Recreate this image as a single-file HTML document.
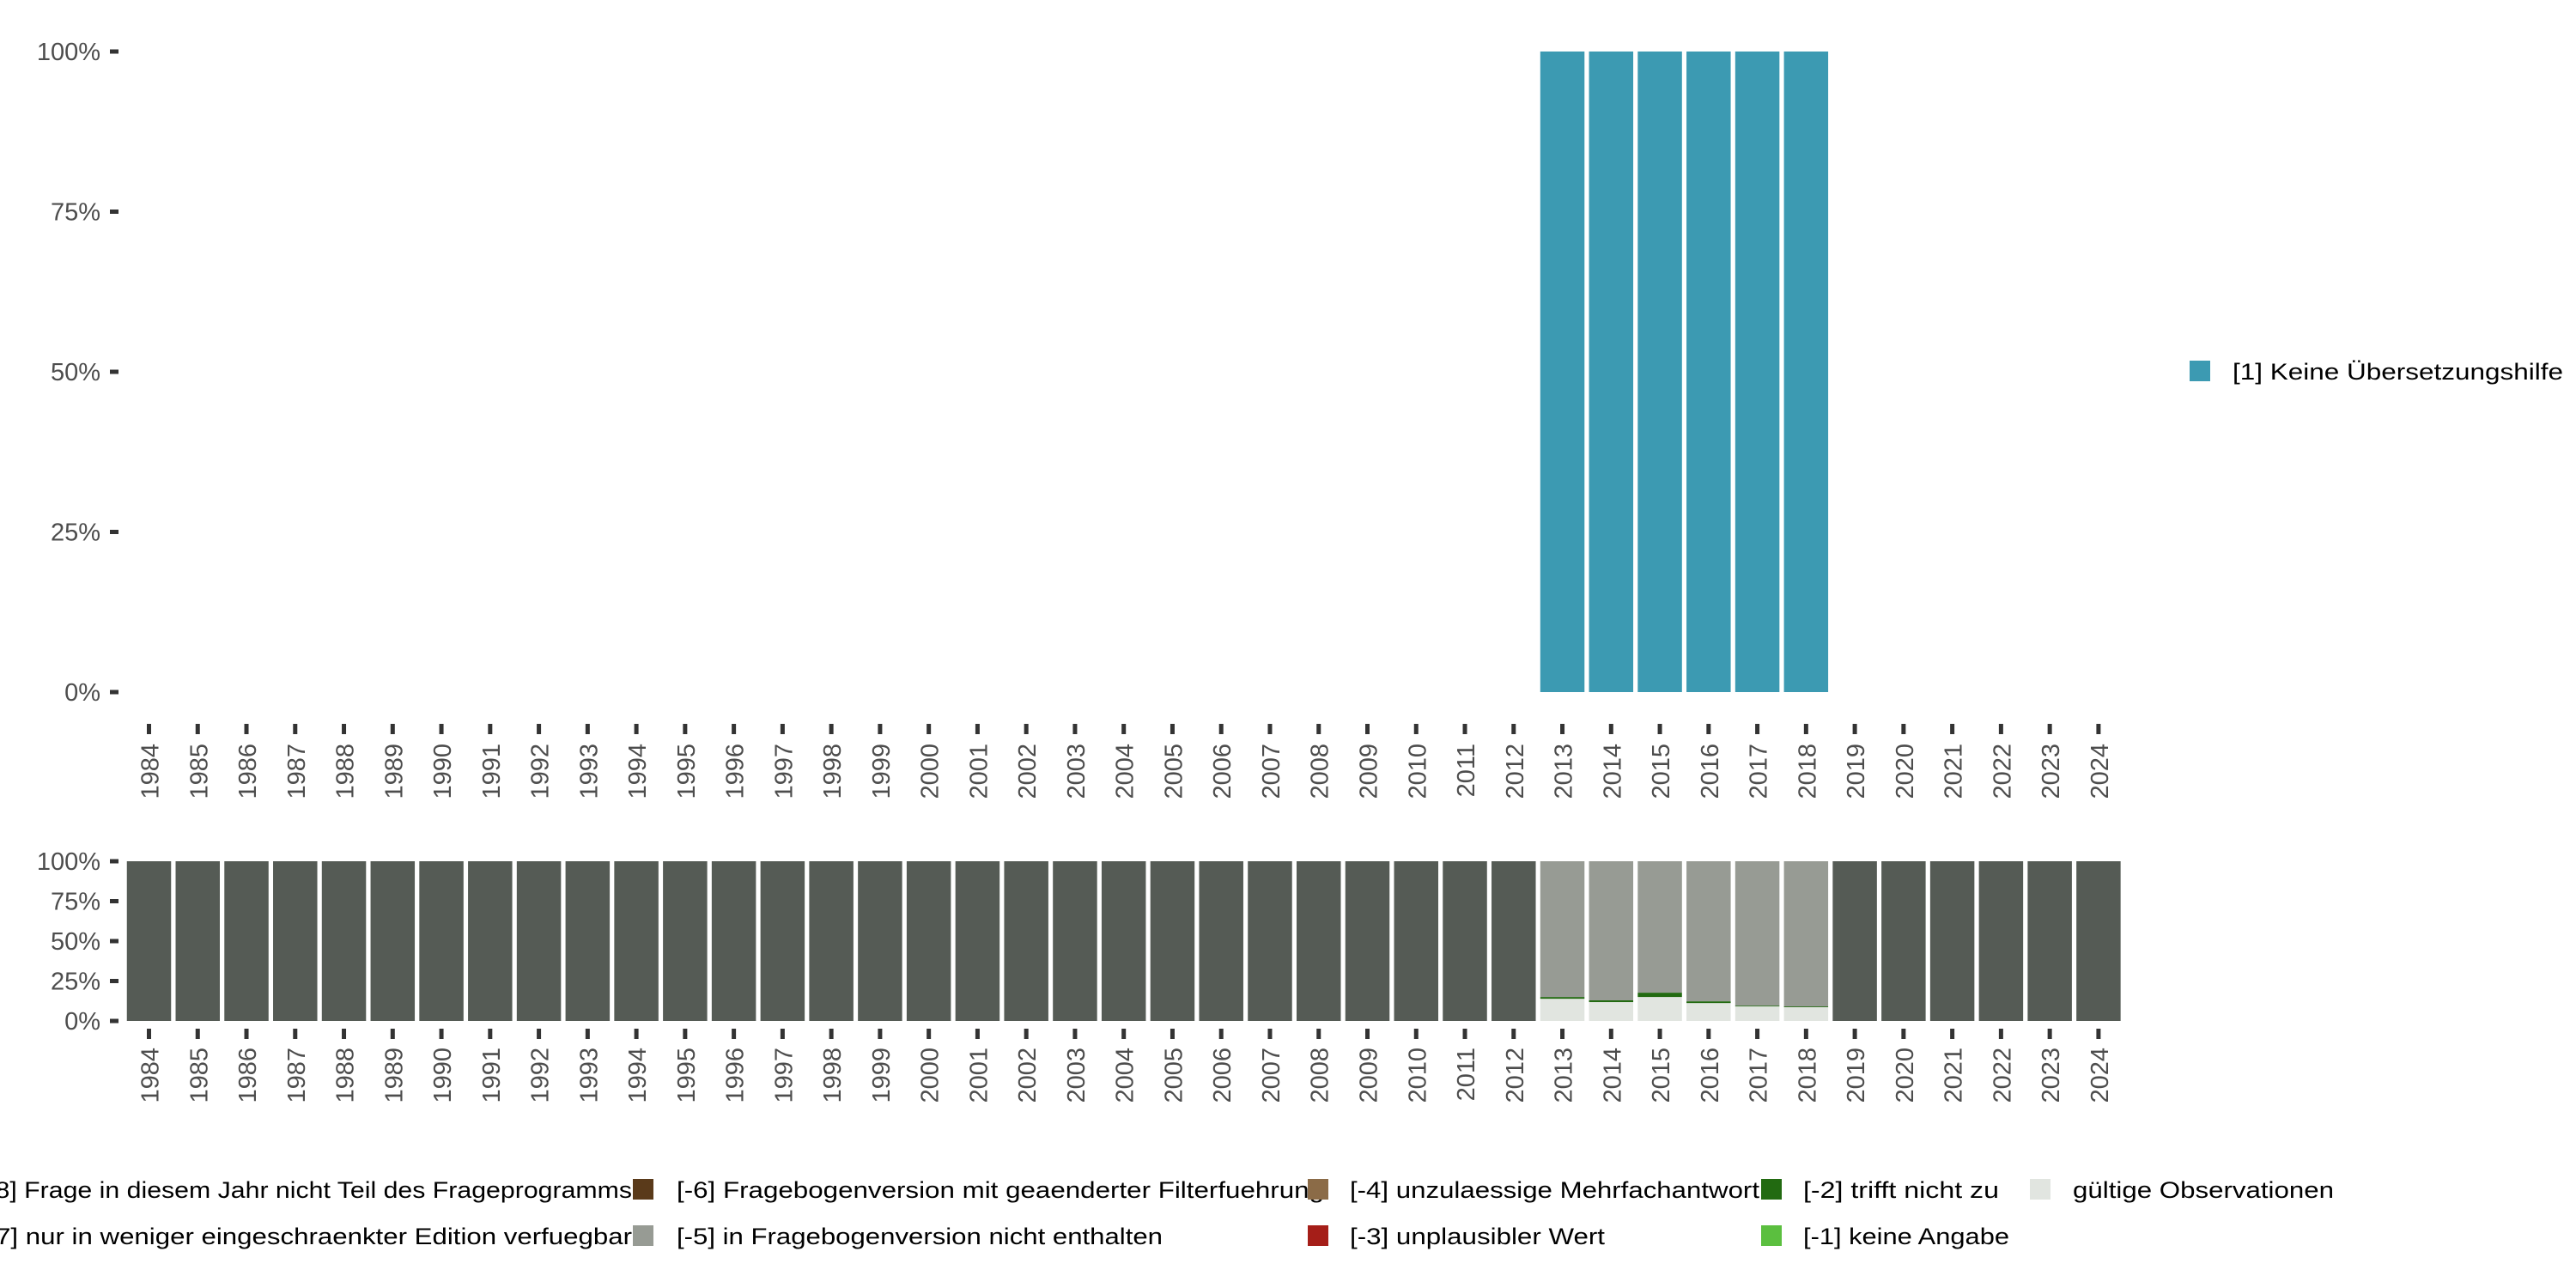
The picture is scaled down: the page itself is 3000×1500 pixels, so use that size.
<!DOCTYPE html>
<html><head><meta charset="utf-8"><style>
html,body{margin:0;padding:0;background:#fff;}
svg{display:block;font-family:"Liberation Sans","DejaVu Sans",sans-serif;}
</style></head><body>
<svg id="chart" width="3000" height="1500" viewBox="0 0 3000 1500" xmlns="http://www.w3.org/2000/svg">
<g id="top"></g>
<g id="bottom"></g>
<g id="legend"></g>
</svg>
<script>
const years = [];
for (let y = 1984; y <= 2024; y++) years.push(y);
const topYears = [2013, 2014, 2015, 2016, 2017, 2018];
const topValues = [1, 1, 1, 1, 1, 1];
const yTickValues = [0, 0.25, 0.5, 0.75, 1];
const yTickLabels = ["0%", "25%", "50%", "75%", "100%"];
const validShare = [0.139, 0.118, 0.150, 0.112, 0.091, 0.086];
const notApplicableShare = [0.011, 0.011, 0.027, 0.011, 0.005, 0.005];

const NS = "http://www.w3.org/2000/svg";
function mk(tag, attrs, parent) {
  const e = document.createElementNS(NS, tag);
  for (const k in attrs) e.setAttribute(k, attrs[k]);
  parent.appendChild(e);
  return e;
}
const xCenter = i => 173.5 + i * 56.76;
const barW = 51.5;
const topY = v => 806 - v * 746;
const botY = v => 1189 - v * 186;
const topG = document.getElementById('top');
const botG = document.getElementById('bottom');
const legG = document.getElementById('legend');

function yAxis(g, yf) {
  yTickValues.forEach((v, i) => {
    const t = mk('rect', {x:128, y:yf(v)-2.5, width:10, height:5, fill:'#333'}, g);
    
    
    const l = mk('text', {x:117, y:yf(v)+10, 'text-anchor':'end', 'font-size':29, fill:'#4d4d4d'}, g);
    
    
    l.textContent = yTickLabels[i];
  });
}
function xAxis(g, tickY, labelY) {
  years.forEach((yr, i) => {
    const cx = xCenter(i);
    const t = mk('rect', {x:cx-2.5, y:tickY, width:5, height:12, fill:'#333'}, g);
    
    
    const l = mk('text', {x:0, y:0, 'text-anchor':'end', 'font-size':29, fill:'#4d4d4d',
      transform:`translate(${cx+11},${labelY}) rotate(-90)`}, g);
    
    
    l.textContent = yr;
  });
}
yAxis(topG, topY);
xAxis(topG, 843, 866);
topYears.forEach((yr, k) => {
  const i = years.indexOf(yr);
  const r = mk('rect', {x:xCenter(i)-barW/2, y:topY(topValues[k]), width:barW, height:topY(0)-topY(topValues[k]), fill:'#3C9AB2'}, topG);
  
  
});

yAxis(botG, botY);
xAxis(botG, 1198, 1220);
years.forEach((yr, i) => {
  const x = xCenter(i) - barW/2;
  const k = topYears.indexOf(yr);
  if (k < 0) {
    const r = mk('rect', {x:x, y:botY(1), width:barW, height:botY(0)-botY(1), fill:'#555B55'}, botG);
    
    
  } else {
    const v = validShare[k], g2 = notApplicableShare[k];
    const a = mk('rect', {x:x, y:botY(v), width:barW, height:botY(0)-botY(v), fill:'#E1E5E0'}, botG);
    
    
    const b = mk('rect', {x:x, y:botY(v+g2), width:barW, height:botY(v)-botY(v+g2), fill:'#226A11'}, botG);
    
    
    const c = mk('rect', {x:x, y:botY(1), width:barW, height:botY(v+g2)-botY(1), fill:'#979B94'}, botG);
    
    
  }
});

// right legend
const lk = mk('rect', {x:2550, y:420, width:24, height:24, fill:'#3C9AB2'}, legG);


const lt = mk('text', {x:2600, y:442, 'font-size':27, fill:'#000', textLength:385, lengthAdjust:'spacingAndGlyphs'}, legG);


lt.textContent = '[1] Keine Übersetzungshilfe';

// bottom legend
const legItems = [
  {kx:-40, tx:736, y:1385, c:'#555B55', t:'[-8] Frage in diesem Jahr nicht Teil des Frageprogramms', end:true},
  {kx:-40, tx:736, y:1439, c:'#3E4A3E', t:'[-7] nur in weniger eingeschraenkter Edition verfuegbar', end:true},
  {kx:737, tx:788, y:1385, c:'#5A3A1A', t:'[-6] Fragebogenversion mit geaenderter Filterfuehrung', w:754},
  {kx:737, tx:788, y:1439, c:'#979B94', t:'[-5] in Fragebogenversion nicht enthalten', w:566},
  {kx:1523, tx:1572, y:1385, c:'#8B6B47', t:'[-4] unzulaessige Mehrfachantwort', w:477},
  {kx:1523, tx:1572, y:1439, c:'#A51E18', t:'[-3] unplausibler Wert', w:297},
  {kx:2051, tx:2100, y:1385, c:'#226A11', t:'[-2] trifft nicht zu', w:228},
  {kx:2051, tx:2100, y:1439, c:'#5BBF3F', t:'[-1] keine Angabe', w:240},
  {kx:2364, tx:2414, y:1385, c:'#E1E5E0', t:'gültige Observationen', w:304}
];
legItems.forEach(it => {
  const k = mk('rect', {x:it.kx, y:it.y-12, width:24, height:24, fill:it.c}, legG);
  
  
  const a = {x:it.tx, y:it.y+10, 'font-size':27, fill:'#000'};
  if (it.end) { a['text-anchor'] = 'end'; a.textLength = 760; a.lengthAdjust = 'spacingAndGlyphs'; }
  else { a.textLength = it.w; a.lengthAdjust = 'spacingAndGlyphs'; }
  const t = mk('text', a, legG);
  
  
  t.textContent = it.t;
});
</script>
</body></html>
